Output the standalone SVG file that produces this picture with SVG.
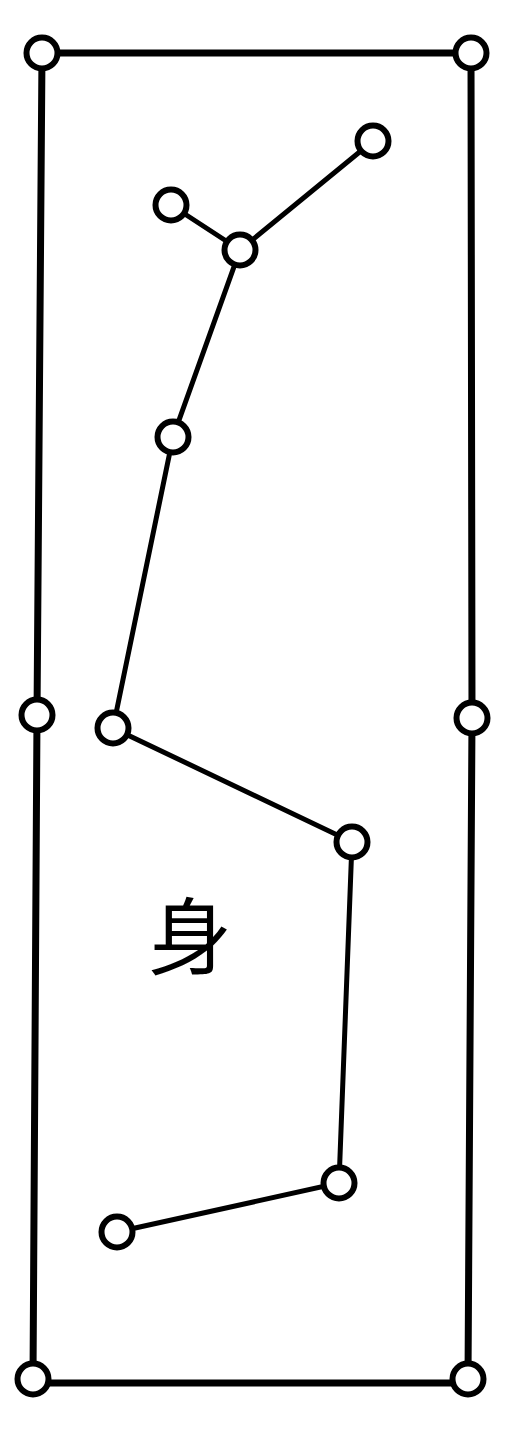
<svg xmlns="http://www.w3.org/2000/svg" width="511" height="1440" viewBox="0 0 511 1440">
<style>
.frame{stroke:#000;stroke-width:7;fill:none;stroke-linecap:round}
.link{stroke:#000;stroke-width:5;fill:none;stroke-linecap:round}
.node{fill:#fff;stroke:#000;stroke-width:6}
.lbl{font-family:"Noto Sans CJK SC","Noto Sans CJK JP",sans-serif;font-size:84px;fill:#000;text-anchor:middle}
</style>
<rect width="511" height="1440" fill="#fff"/>
<g id="connectors">
<polyline class="frame" points="42,53 471,53"/>
<polyline class="frame" points="42,53 37,715 33,1379"/>
<polyline class="frame" points="471,53 472,718 468,1379"/>
<polyline class="frame" points="33,1383 468,1383"/>
<polyline class="link" points="373,141 240,250 173,437 113,728 352,842 339,1183 117,1232"/>
<line class="link" x1="171" y1="205" x2="240" y2="250"/>
</g>
<g id="n-tl"><circle class="node" cx="42" cy="53" r="15.5"/></g>
<g id="n-tr"><circle class="node" cx="471" cy="53" r="15.5"/></g>
<g id="n-ml"><circle class="node" cx="37" cy="715" r="15.5"/></g>
<g id="n-mr"><circle class="node" cx="472" cy="718" r="15.5"/></g>
<g id="n-bl"><circle class="node" cx="33" cy="1379" r="15.5"/></g>
<g id="n-br"><circle class="node" cx="468" cy="1379" r="15.5"/></g>
<g id="n1"><circle class="node" cx="373" cy="141" r="15.5"/></g>
<g id="n2"><circle class="node" cx="171" cy="205" r="15.5"/></g>
<g id="n3"><circle class="node" cx="240" cy="250" r="15.5"/></g>
<g id="n4"><circle class="node" cx="173" cy="437" r="15.5"/></g>
<g id="n5"><circle class="node" cx="113" cy="728" r="15.5"/></g>
<g id="n6"><circle class="node" cx="352" cy="842" r="15.5"/></g>
<g id="n7"><circle class="node" cx="339" cy="1183" r="15.5"/></g>
<g id="n8"><circle class="node" cx="117" cy="1232" r="15.5"/></g>
<g id="label"><text class="lbl" x="190" y="968">身</text></g>
</svg>
